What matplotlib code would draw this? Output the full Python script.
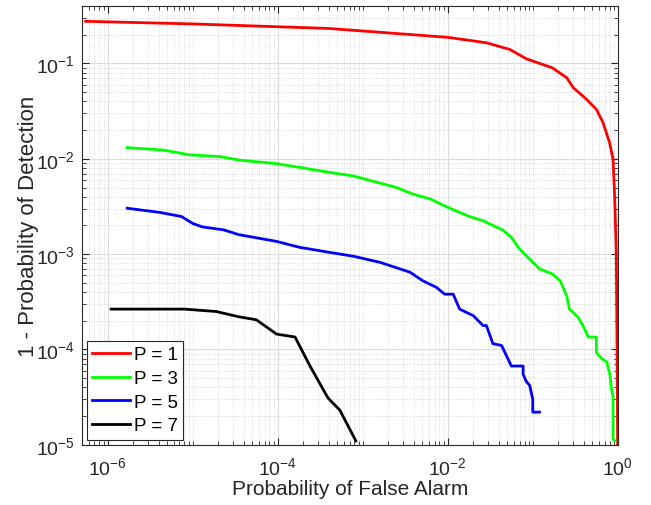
import numpy as np
import matplotlib
matplotlib.use("Agg")
import matplotlib.pyplot as plt
from matplotlib.ticker import FixedLocator, NullFormatter

plt.rcParams['font.family'] = ['Liberation Sans', 'DejaVu Sans']
plt.rcParams['mathtext.fontset'] = 'custom'
plt.rcParams['mathtext.rm'] = 'Liberation Sans'
plt.rcParams['mathtext.it'] = 'Liberation Sans:italic'

# values (Pfa, 1 - Pd)
pfa_p1 = [5.5e-7, 1e-5, 4e-4, 1e-2, 2.85e-2, 5.4e-2, 8.4e-2, 0.17, 0.25, 0.30,
          0.43, 0.56, 0.67, 0.80, 0.88, 0.92, 0.96, 0.975, 0.99, 0.995]
pd_p1 = [0.277, 0.26, 0.233, 0.188, 0.165, 0.14, 0.112, 0.09, 0.071, 0.0557,
         0.042, 0.033, 0.024, 0.0148, 0.0099, 0.0038, 0.00105, 2e-4, 3e-5, 1e-5]

pfa_p3 = [1.7e-6, 4.5e-6, 9.2e-6, 2.1e-5, 3.5e-5, 9.7e-5, 2.2e-4, 4.1e-4, 7.8e-4,
          2.5e-3, 3.9e-3, 6.2e-3, 1e-2, 1.8e-2, 2.6e-2, 3.4e-2, 4.5e-2, 5.6e-2,
          7e-2, 8.8e-2, 0.12, 0.17, 0.21, 0.25, 0.27, 0.34, 0.39, 0.45, 0.50,
          0.56, 0.56, 0.65, 0.74, 0.81, 0.84, 0.88, 0.88, 0.92]
pd_p3 = [0.0131, 0.01236, 0.011, 0.01055, 0.0097, 0.0089, 0.0079, 0.0072, 0.0066,
         0.005, 0.00426, 0.0038, 0.0031, 0.00248, 0.00224, 0.002, 0.00178, 0.0015,
         0.00113, 0.00092, 7e-4, 6.2e-4, 5.25e-4, 3.66e-4, 2.65e-4, 2.18e-4,
         1.78e-4, 1.35e-4, 1.35e-4, 1.35e-4, 9.3e-5, 8e-5, 7.4e-5, 5.4e-5, 3.9e-5,
         3.2e-5, 1.15e-5, 1.1e-5]

pfa_p5 = [1.7e-6, 4.1e-6, 7.4e-6, 1e-5, 1.3e-5, 2.3e-5, 3.5e-5, 9.7e-5, 1.8e-4,
          3.9e-4, 7.8e-4, 1.6e-3, 3.6e-3, 5.1e-3, 7.4e-3, 9.2e-3, 1.16e-2, 1.38e-2,
          2e-2, 2.6e-2, 2.85e-2, 3.4e-2, 4.3e-2, 5.6e-2, 7.7e-2, 7.7e-2, 8.4e-2,
          9.2e-2, 0.1, 0.1, 0.12]
pd_p5 = [0.00303, 0.00274, 0.00248, 0.0021, 0.00193, 0.0018, 0.0016, 0.00136,
         0.00118, 0.00105, 9.5e-4, 8.2e-4, 6.46e-4, 5.25e-4, 4.47e-4, 3.8e-4,
         3.8e-4, 2.65e-4, 2.26e-4, 1.78e-4, 1.78e-4, 1.15e-4, 1.1e-4, 6.7e-5,
         6.7e-5, 5.5e-5, 4.6e-5, 4.2e-5, 3e-5, 2.2e-5, 2.2e-5]

pfa_p7 = [1.1e-6, 8e-6, 1.9e-5, 3.5e-5, 5.6e-5, 9.7e-5, 1.6e-4, 2.4e-4, 3.9e-4,
          5.4e-4, 8.3e-4]
pd_p7 = [2.65e-4, 2.65e-4, 2.5e-4, 2.2e-4, 2.05e-4, 1.45e-4, 1.35e-4, 6.7e-5,
         3.1e-5, 2.3e-5, 1.1e-5]

labels = ['P = 1', 'P = 3', 'P = 5', 'P = 7']
xticks = [1e-6, 1e-4, 1e-2, 1e0]
xtick_labels = ['$10^{-6}$', '$10^{-4}$', '$10^{-2}$', '$10^{0}$']
yticks = [1e-5, 1e-4, 1e-3, 1e-2, 1e-1]
ytick_labels = ['$10^{-5}$', '$10^{-4}$', '$10^{-3}$', '$10^{-2}$', '$10^{-1}$']

series = [(pfa_p1, pd_p1, (1, 0, 0)),
          (pfa_p3, pd_p3, (0, 1, 0)),
          (pfa_p5, pd_p5, (0, 0, 1)),
          (pfa_p7, pd_p7, (0, 0, 0))]

fig = plt.figure(figsize=(6.51, 5.06), dpi=100)
ax = fig.add_axes([0.126, 0.119, 0.823, 0.867])

for (x, y, c), lab in zip(series, labels):
    ax.loglog(x, y, color=c, linewidth=2, label=lab)

ax.set_xlim(5e-7, 1)
ax.set_ylim(1e-5, 0.4)

xminor = [m * 10.0 ** e for e in range(-7, 0) for m in range(1, 10)]
xminor = [v for v in xminor if 5e-7 <= v <= 1 and v not in xticks]
yminor = [m * 10.0 ** e for e in range(-5, 0) for m in range(2, 10)]
yminor = [v for v in yminor if v <= 0.4]

ax.set_xticks(xticks)
ax.set_xticklabels(xtick_labels)
ax.set_yticks(yticks)
ax.set_yticklabels(ytick_labels)
ax.xaxis.set_minor_locator(FixedLocator(xminor))
ax.xaxis.set_minor_formatter(NullFormatter())
ax.yaxis.set_minor_locator(FixedLocator(yminor))
ax.yaxis.set_minor_formatter(NullFormatter())

ax.grid(True, which='major', color='#dcdcdc', linewidth=0.8, linestyle='-')
ax.grid(True, which='minor', color='#d0d0d0', linewidth=0.6, linestyle=':')
ax.set_axisbelow(True)

for s in ax.spines.values():
    s.set_color('#262626')
    s.set_linewidth(0.8)
ax.tick_params(which='both', direction='in', top=True, right=True, colors='#262626',
               labelsize=14, labelcolor='#262626')
ax.tick_params(which='major', length=5)
ax.tick_params(which='minor', length=3)
ax.tick_params(axis='x', which='major', pad=8)
ax.tick_params(axis='y', which='major', pad=5)

ax.set_xlabel('Probability of False Alarm', fontsize=15, color='#262626', labelpad=1)
ax.set_ylabel('1 - Probability of Detection', fontsize=16, color='#262626', labelpad=-2)

leg = ax.legend(loc='lower left', fontsize=13.5, fancybox=False, framealpha=1,
                edgecolor='#262626', borderaxespad=0.25, handlelength=2.0,
                handletextpad=0.2, borderpad=0.3, labelspacing=0.35)
leg.get_frame().set_linewidth(0.8)

fig.savefig('out.png', dpi=100)
